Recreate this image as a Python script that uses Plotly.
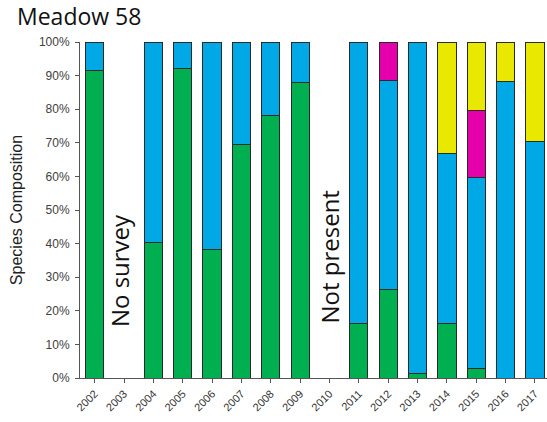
import plotly.graph_objects as go

years = list(range(2002, 2018))

# Species composition per year (percent); None = no data
green = [91.5, None, 40.2, 92.0, 38.2, 69.6, 78.0, 87.9, None, 16.1, 26.3, 1.3, 16.1, 2.7, 0.0, 0.0]
blue = [8.5, None, 59.8, 8.0, 61.8, 30.4, 22.0, 12.1, None, 83.9, 62.1, 98.7, 50.8, 56.9, 88.2, 70.5]
magenta = [0, None, 0, 0, 0, 0, 0, 0, None, 0, 11.6, 0, 0, 19.9, 0, 0]
yellow = [0, None, 0, 0, 0, 0, 0, 0, None, 0, 0, 0, 33.1, 20.5, 11.8, 29.5]

series = [
    ("Green", green, "#00B050"),
    ("Blue", blue, "#00A9E6"),
    ("Magenta", magenta, "#E600AC"),
    ("Yellow", yellow, "#E8E800"),
]

y_ticks = list(range(0, 101, 10))
y_ticktext = [f"{v}%" for v in y_ticks]

fig = go.Figure()
for name, vals, color in series:
    fig.add_trace(go.Bar(
        x=years, y=vals, name=name, width=0.62,
        marker=dict(color=color, line=dict(color="#2a2a2a", width=1)),
    ))

fig.update_layout(
    barmode="stack",
    width=547, height=422,
    margin=dict(l=80, r=0, t=42, b=44),
    plot_bgcolor="white", paper_bgcolor="white",
    showlegend=False,
    font=dict(family="Liberation Sans, Arial", color="#333333"),
)

fig.update_xaxes(
    range=[2001.5, 2017.41],
    tickvals=years, ticktext=[str(y) for y in years],
    tickangle=-45, tickfont=dict(size=11, color="#333333"),
    showline=True, linecolor="#555555", linewidth=1,
    ticks="outside", ticklen=4, tickcolor="#555555",
    showgrid=False, zeroline=False,
)
fig.update_yaxes(
    range=[0, 100],
    tickvals=y_ticks, ticktext=y_ticktext,
    tickfont=dict(size=12, color="#404040"),
    ticklabelstandoff=3,
    showline=True, linecolor="#555555", linewidth=1,
    ticks="outside", ticklen=4, tickcolor="#555555",
    showgrid=False, zeroline=False,
    title=dict(text="Species Composition", font=dict(size=16, color="#222222"), standoff=12),
)

fig.add_annotation(
    x=2002.85, y=32, xref="x", yref="y", text="No survey", textangle=-90,
    showarrow=False, font=dict(family="Open Sans", size=24, color="#111111"),
)
fig.add_annotation(
    x=2010, y=36, xref="x", yref="y", text="Not present", textangle=-90,
    showarrow=False, font=dict(family="Open Sans", size=24, color="#111111"),
)
# chart heading, positioned relative to the plot area
fig.add_annotation(
    xref="paper", yref="paper", x=-65 / 467, y=1 + 8 / 336,
    xanchor="left", yanchor="bottom",
    text="Meadow 58", showarrow=False,
    font=dict(family="Open Sans", size=23, color="#111111"),
)

fig.write_html("out.html")
